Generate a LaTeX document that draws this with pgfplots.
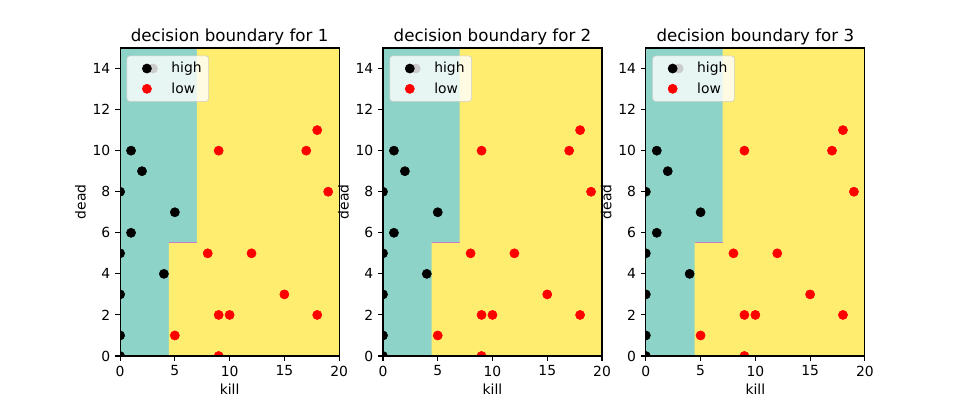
\documentclass[border=0pt]{standalone}
\usepackage{fontspec}
\setmainfont{DejaVu Sans}
\usepackage{pgfplots}
\usepackage{pgfplotstable}
\pgfplotsset{compat=1.18}
\definecolor{bgteal}{HTML}{8DD3C7}
\definecolor{bgyellow}{HTML}{FFED6F}
\definecolor{edgemag}{HTML}{C77FC8}
\definecolor{legedge}{HTML}{CCCCCC}

\pgfplotstableread{
x y
0 0
0 1
0 3
0 5
0 8
1 6
1 10
2 9
4 4
5 7
3 14
}\high
\pgfplotstableread{
x y
5 1
8 5
9 0
9 2
9 10
10 2
12 5
15 3
17 10
18 2
18 11
19 8
}\low
\pgfplotstableread{
x y
4.45 0
4.45 5.55
7 5.55
7 15
20 15
20 0
}\yellowreg

\pgfplotsset{dbstyle/.style={
  scale only axis, width=157.7pt, height=221.76pt,
  xmin=0,xmax=20,ymin=0,ymax=15,
  xtick={0,5,...,20}, ytick={0,2,...,14},
  tick align=outside, tick pos=left, major tick length=3.5pt,
  every tick/.style={black, line width=0.8pt},
  axis line style={line width=0.8pt},
  axis on top, clip marker paths=true,
  xlabel={kill}, ylabel={dead},
  xlabel style={yshift=1.5pt},
  ylabel style={yshift=-2pt},
  /pgf/number format/assume math mode=true,
  tick label style={font=\fontsize{10}{12}\selectfont},
  label style={font=\fontsize{10}{12}\selectfont},
  title style={font=\fontsize{12}{14}\selectfont, yshift=-7pt},
  legend style={at={(0.03,0.975)}, anchor=north west, fill=white, fill opacity=0.8, text opacity=1, draw opacity=1, draw=legedge, rounded corners=2pt, font=\fontsize{10}{12}\selectfont, row sep=1.5pt, inner xsep=3pt, inner ysep=2.5pt},
  legend image post style={opacity=1, fill opacity=1},
  legend cell align=left,
  mylegimg/.style={legend image code/.code={\path[draw=none,fill=none] (0cm,0cm) (0.95cm,0cm); \draw[##1, only marks] plot coordinates {(0.4cm,0cm)};}},
}}

\newcommand{\panel}[2]{%
\begin{axis}[dbstyle, at={(#1,31.68pt)}, anchor=south west, title={decision boundary for #2}]
\addplot[forget plot, fill=bgteal, draw=none] coordinates {(0,0) (0,15) (20,15) (20,0)} -- cycle;
\addplot[forget plot, fill=bgyellow, draw=none] table {\yellowreg} -- cycle;
\addplot[forget plot, edgemag, line width=0.6pt] coordinates {(4.45,5.55) (7,5.55)};
\addplot[only marks, mylegimg, mark=*, mark size=3.3pt, black] table {\high};
\addlegendentry{high}
\addplot[only marks, mylegimg, mark=*, mark size=3.3pt, red, mark options={draw=red, fill=red}] table {\low};
\addlegendentry{low}
\end{axis}}

\begin{document}
\begin{tikzpicture}
\path[use as bounding box] (0,0) rectangle (691.92pt,288pt);
\panel{86.47pt}{1}
\panel{275.74pt}{2}
\panel{465.0pt}{3}
\end{tikzpicture}
\end{document}
